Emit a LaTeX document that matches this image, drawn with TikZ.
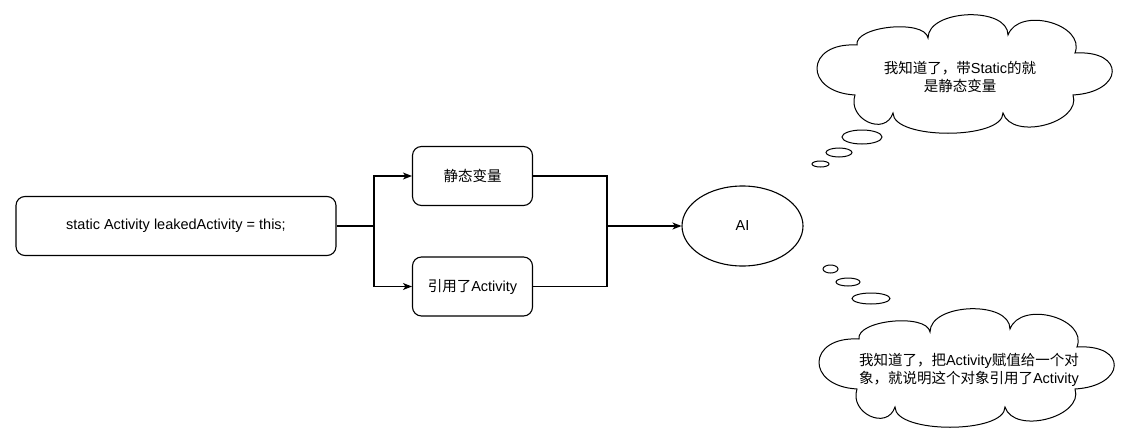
\documentclass[tikz,border=0pt]{standalone}
\usepackage{fontspec}
\setmainfont{Liberation Sans}
\newfontfamily\cjk{Noto Sans CJK SC}
\usetikzlibrary{arrows.meta,shapes.geometric}

\tikzset{
  box/.style={draw, rounded corners=9, line width=1.1pt, inner sep=0pt,
    minimum width=120, minimum height=59, align=center},
  line/.style={line width=1.1pt},
  arr/.style={line width=1.1pt, -{Stealth[length=9pt,width=7pt,inset=2.5pt]}},
  puff/.style={draw, ellipse, line width=1pt, inner sep=0pt},
  thought/.pic={
    \draw[line width=1pt] (-108,-29) .. controls (-160,-32) and (-162,18) .. (-110,21)
      .. controls (-118,45) and (-80,63) .. (-72,39)
      .. controls (-72,66) and (38,66) .. (38,39)
      .. controls (47,67) and (117,49) .. (108,21)
      .. controls (159,18) and (161,-24) .. (110,-21)
      .. controls (121,-50) and (54,-68) .. (43,-39)
      .. controls (43,-68) and (-37,-65) .. (-37,-36)
      .. controls (-40,-55) and (-111,-48) .. cycle;
  }
}

\begin{document}
\begin{tikzpicture}[x=1pt, y=-1pt, font=\fontsize{14.5}{18}\selectfont]
        \useasboundingbox (0,0) rectangle (1129,444);
        % boxes
        \node[box, minimum width=320] (code) at (176,226) {static Activity leakedActivity = this;};
        \node[box] (static) at (472.5,176) {\cjk 静态变量};
        \node[box] (ref) at (472.5,286.5) {{\cjk 引用了}Activity};
        \node[draw, ellipse, line width=1.1pt, minimum width=121, minimum height=80] (ai) at (742.5,226) {AI};
        % connectors
        \coordinate (split) at (374,226);
        \coordinate (merge) at (607,226);
        \draw[line] (code.east) -- (split);
        \draw[arr] (split) |- (static.west);
        \draw[arr] (split) |- (ref.west);
        \draw[line] (static.east) -| (merge);
        \draw[line] (ref.east) -| (merge);
        \draw[arr] (merge) -- (ai.west);
        % upper thought
        \pic at (965,74) {thought};
        \node[align=center] (know1) at (960,77) {{\cjk 我知道了，带}Static{\cjk 的就}\\{\cjk 是静态变量}};
        \node[puff, minimum width=40, minimum height=14] (p1) at (862,137) {};
        \node[puff, minimum width=26, minimum height=9] (p2) at (839,152.5) {};
        \node[puff, minimum width=17, minimum height=6] (p3) at (820.5,164) {};
        % lower thought
        \node[puff, minimum width=15, minimum height=8] (q1) at (830.5,269) {};
        \node[puff, minimum width=24, minimum height=8] (q2) at (848,282) {};
        \node[puff, minimum width=38, minimum height=11] (q3) at (871,298.5) {};
        \pic at (967,368) {thought};
        \node[align=center] (know2) at (969,370) {{\cjk 我知道了，把}Activity{\cjk 赋值给一个对}\\{\cjk 象，就说明这个对象引用了}Activity};
      \end{tikzpicture}
\end{document}
